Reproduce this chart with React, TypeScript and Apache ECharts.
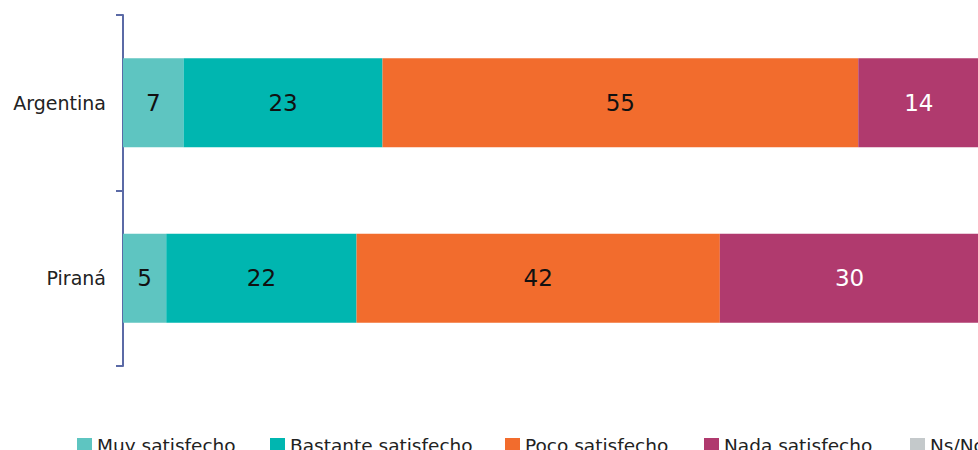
import React, { useEffect, useRef } from "react";
import * as echarts from "echarts";

const categories = ["Argentina", "Piraná"];
const seriesNames = ["Muy satisfecho", "Bastante satisfecho", "Poco satisfecho", "Nada satisfecho", "Ns/Nc"];
const muySatisfecho = [7, 5];
const bastanteSatisfecho = [23, 22];
const pocoSatisfecho = [55, 42];
const nadaSatisfecho = [14, 30];
const nsNc = [1, 1];

const colors = ["#5ec5c1", "#00b6b0", "#f26c2d", "#b03a6e", "#c4c9cb"];
const labelColors = ["#111", "#111", "#111", "#ffffff", "#111"];
const legendLefts = [77, 270, 505, 704, 910];
const FONT = "DejaVu Sans";

export default function App() {
  const ref = useRef<HTMLDivElement>(null);
  useEffect(() => {
    if (!ref.current) return;
    const chart = echarts.init(ref.current, undefined, { renderer: "svg" });
    const values = [muySatisfecho, bastanteSatisfecho, pocoSatisfecho, nadaSatisfecho, nsNc];
    chart.setOption({
      animation: false,
      grid: { left: 123, right: 2, top: 15, bottom: 84, containLabel: false },
      legend: seriesNames.map((n, i) => ({
        data: [n],
        left: legendLefts[i],
        top: 436,
        padding: 0,
        itemWidth: 15,
        itemHeight: 15,
        icon: "rect",
        textStyle: { fontFamily: FONT, fontSize: 18.5, color: "#222" },
      })),
      xAxis: { type: "value", min: 0, max: 100, show: false },
      yAxis: {
        type: "category",
        data: categories,
        inverse: true,
        axisLine: { show: true, lineStyle: { color: "#5b6aa6", width: 2 } },
        axisTick: { show: true, length: 7, lineStyle: { color: "#5b6aa6", width: 2 } },
        axisLabel: { margin: 17, fontFamily: FONT, fontSize: 19, color: "#222" },
        splitLine: { show: false },
      },
      series: seriesNames.map((n, i) => ({
        name: n,
        type: "bar",
        stack: "total",
        barWidth: 89,
        data: values[i],
        itemStyle: { color: colors[i] },
        label: {
          show: i < 4,
          position: "inside",
          fontFamily: FONT,
          fontSize: 23,
          color: labelColors[i],
        },
      })),
    });
    return () => chart.dispose();
  }, []);
  return (
    <div
      ref={ref}
      style={{ position: "fixed", left: 0, top: 0, width: 990, height: 450, background: "#fff" }}
    />
  );
}
